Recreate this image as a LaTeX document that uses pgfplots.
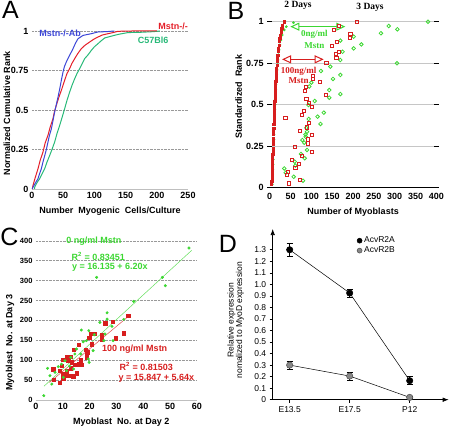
\documentclass[border=0pt]{standalone}
\usepackage{fontspec}
\setmainfont{Liberation Sans}
\newfontfamily\tnr{Liberation Serif}
\usepackage{pgfplots}
\pgfplotsset{compat=1.18}
\usetikzlibrary{arrows.meta}
\definecolor{cblue}{RGB}{60,70,215}
\definecolor{cred}{RGB}{228,30,40}
\definecolor{cgreen}{RGB}{40,185,120}
\definecolor{bgreen}{RGB}{60,215,50}
\definecolor{bred}{RGB}{215,30,30}
\definecolor{grayD}{RGB}{135,135,135}
\newcommand\tl{\bfseries\fontsize{9}{10}\selectfont}
\begin{document}
\begin{tikzpicture}
\useasboundingbox (0,0) rectangle (454pt,428pt);
\pgfplotsset{every axis/.append style={scale only axis, anchor=south west, clip=false,
  /pgf/number format/assume math mode=true}}
% ---------------- Panel A
\begin{axis}[at={(32pt,239pt)}, width=156pt, height=158pt,
  xmin=0, xmax=250, ymin=0, ymax=1,
  axis line style={draw=none}, major tick length=0pt,
  xtick={0,50,...,250}, ytick={0,0.25,0.5,0.75,1}, yticklabels={0,0.25,0.5,0.75,1},
  ymajorgrids, grid style={densely dotted, gray!80},
  ticklabel style={font=\tl},
  xlabel={Number\ \ Myogenic\ \ Cells/Culture}, ylabel={Normalized Cumulative Rank},
  label style={font=\tl},
  xlabel style={at={(axis description cs:0.5,0)}, anchor=center, yshift=-22pt},
  ylabel style={at={(axis description cs:0,0.48)}, anchor=center, yshift=25pt},
  every axis plot/.append style={line width=1pt}]
\draw[gray!50] (axis cs:0,0) -- (axis cs:250,0);
\addplot[cgreen] coordinates {(4.3,0) (4.3,0.012) (8,0.04) (12.3,0.065) (16,0.095) (20.3,0.128) (24,0.17) (28.3,0.212) (32,0.25) (36.3,0.297) (40,0.35) (44.3,0.402) (48,0.45) (52.3,0.508) (56,0.56) (60.3,0.613) (64,0.655) (68.4,0.698) (72,0.73) (76.4,0.762) (80,0.79) (84.4,0.825) (90,0.85) (95,0.877) (100,0.9) (105.8,0.92) (110,0.935) (116.5,0.956) (125,0.965) (132.5,0.973) (140,0.98) (153.8,0.99) (175,0.992) (195,0.996) (205,1)};
\addplot[cred] coordinates {(0.5,0) (1.6,0.023) (5,0.07) (9.6,0.128) (13,0.18) (17.6,0.234) (21,0.29) (25.6,0.34) (29,0.39) (33.6,0.445) (36,0.49) (39,0.53) (43,0.58) (47,0.624) (50,0.66) (52.3,0.688) (56,0.73) (60.3,0.762) (64,0.795) (68.4,0.825) (73,0.855) (79,0.888) (85,0.91) (92.3,0.93) (99,0.948) (105.8,0.962) (113,0.975) (121.8,0.983) (130,0.99) (137.8,0.998) (160,1) (200,1)};
\addplot[cblue] coordinates {(0.5,0) (1.6,0.012) (5,0.035) (9.6,0.065) (12,0.095) (14.96,0.128) (17.5,0.17) (20.3,0.21) (23,0.25) (25.6,0.297) (28,0.34) (31,0.38) (33.5,0.43) (36.3,0.487) (39,0.535) (41.7,0.582) (44.5,0.635) (47,0.688) (49.7,0.74) (52,0.775) (55,0.804) (60.3,0.846) (65.7,0.888) (70,0.925) (73.7,0.951) (81.7,0.972) (95,0.983) (105.8,0.994) (120,0.996) (132,1)};
\node[cblue, font=\tl] at (axis cs:45,0.985) {Mstn-/-Ab};
\node[cred, font=\tl] at (axis cs:226,1.027) {Mstn-/-};
\node[cgreen, font=\tl] at (axis cs:194,0.943) {C57Bl6};
\end{axis}
% ---------------- Panel B
\begin{axis}[at={(269.67pt,240.33pt)}, width=166.67pt, height=166pt,
  xmin=0, xmax=400, ymin=0, ymax=1,
  axis line style={draw=none},
  xtick={0,50,...,400}, ytick={0,0.25,0.5,0.75,1}, yticklabels={0,0.25,0.5,0.75,1},
  xtick style={draw=none}, ytick style={black, line width=1.3pt},
  major tick length=5pt, tick align=center,
  ymajorgrids, grid style={gray!45, line width=1pt},
  ticklabel style={font=\tl},
  xlabel={Number of Myoblasts}, ylabel={Standardized\ \ Rank},
  label style={font=\tl},
  xlabel style={at={(axis description cs:0.5,0)}, anchor=center, yshift=-25pt},
  ylabel style={at={(axis description cs:0,0.55)}, anchor=center, yshift=31pt}]
\draw[black, line width=1.6pt] (axis cs:-6,0) -- (axis cs:400,0);
% 2 days, 0 ng/ml
\addplot[only marks, mark=*, mark size=1.2pt, color=bgreen] coordinates {(6,0.02) (6.5,0.05) (7,0.08) (7.5,0.11) (8,0.14) (8.3,0.17) (8.7,0.2) (9.1,0.23) (9.5,0.26) (9.9,0.29) (10.2,0.32) (10.6,0.35) (11,0.38) (11.4,0.41) (11.9,0.44) (12.4,0.47) (12.9,0.5) (13.4,0.53) (14,0.56) (14.6,0.59) (15.2,0.62) (16,0.65) (16.8,0.68) (17.6,0.71) (18.6,0.74) (19.8,0.77) (21,0.8) (22.5,0.83) (24.5,0.86) (27,0.89) (30,0.92) (35,0.95) (40,0.97) (57,0.994)};
% 2 days, 100 ng/ml
\addplot[only marks, mark=square*, mark size=1.1pt, color=bred] coordinates {(4.5,0.02) (5.0,0.04) (5.3,0.06) (5.6,0.08) (6.0,0.10) (6.2,0.12) (6.5,0.14) (6.8,0.16) (7.0,0.18) (7.3,0.20) (7.6,0.22) (7.9,0.24) (8.2,0.26) (8.5,0.28) (8.8,0.30) (9.0,0.32) (9.3,0.34) (9.6,0.36) (9.9,0.38) (10.2,0.40) (10.5,0.42) (10.8,0.44) (11.1,0.46) (11.4,0.48) (11.8,0.50) (12.1,0.52) (12.5,0.54) (12.9,0.56) (13.3,0.58) (13.7,0.60) (14.1,0.62) (14.6,0.64) (15.0,0.66) (15.5,0.68) (16.0,0.70) (16.6,0.72) (17.2,0.74) (17.8,0.76) (18.5,0.78) (19.2,0.80) (20.0,0.82) (21.0,0.84) (22.0,0.86) (23.0,0.88) (24.2,0.90) (25.5,0.92) (27.0,0.94) (29.0,0.96) (31.0,0.98) (34.0,1.00)};
% 3 days, 0 ng/ml
\addplot[only marks, mark=o, mark size=1.8pt, mark options={line width=0.8pt}, color=bgreen] coordinates {(380,1.0) (285.6,0.974) (306.4,0.954) (267,0.93) (201.6,0.91) (220,0.863) (201.6,0.839) (169.6,0.886) (175,0.819) (169.6,0.769) (305.6,0.749) (145.6,0.729) (123,0.703) (169.6,0.679) (152,0.655) (100,0.633) (95,0.61) (143,0.588) (169.6,0.564) (143,0.542) (108,0.522) (93,0.498) (130,0.452) (115,0.428) (93.6,0.414) (122,0.384) (89.6,0.337) (86.4,0.307) (78.4,0.287) (83,0.271) (89.6,0.227) (75,0.203) (84,0.177) (60,0.157) (61.6,0.133) (35,0.116) (38.4,0.09) (57.6,0.066) (80,0.042) (88,0.36) (86,0.32)};
% 3 days, 100 ng/ml
\addplot[only marks, mark=square, mark size=1.6pt, mark options={line width=0.8pt}, color=bred] coordinates {(209.6,1.0) (167,0.974) (153.6,0.95) (193.6,0.924) (192,0.904) (161.6,0.88) (150,0.855) (167,0.82) (158,0.805) (160,0.78) (136,0.753) (104,0.673) (104,0.653) (120,0.637) (86.4,0.608) (84,0.584) (134,0.558) (88,0.534) (93.6,0.512) (102,0.488) (83,0.464) (78,0.438) (37.6,0.418) (93.6,0.388) (89.6,0.363) (72.8,0.341) (101.6,0.317) (92,0.291) (92,0.267) (60,0.247) (102,0.217) (77.6,0.191) (52.8,0.167) (69.6,0.143) (61.6,0.12) (43,0.096) (41.6,0.076) (72,0.046) (46.4,0.026)};
\draw[bgreen, line width=1pt, {Triangle[open,length=9pt,width=8pt]}-{Triangle[open,length=9pt,width=8pt]}] (axis cs:49.6,0.97) -- (axis cs:181.6,0.97);
\draw[bred, line width=1pt, {Triangle[open,length=9pt,width=8pt]}-{Triangle[open,length=9pt,width=8pt]}] (axis cs:29.6,0.773) -- (axis cs:129.6,0.773);
\node[bgreen, align=center, font=\tnr\bfseries\fontsize{9}{12}\selectfont] at (axis cs:107,0.893) {0ng/ml\\Mstn};
\node[bred, align=center, font=\tnr\bfseries\fontsize{9}{10.5}\selectfont] at (axis cs:69.6,0.677) {100ng/ml\\Mstn};
\node[font=\tnr\bfseries\fontsize{9.5}{10}\selectfont] at (axis cs:68,1.10) {2 Days};
\node[font=\tnr\bfseries\fontsize{9.5}{10}\selectfont] at (axis cs:240.8,1.088) {3 Days};
\end{axis}
% ---------------- Panel C
\begin{axis}[at={(36pt,28pt)}, width=161pt, height=159.3pt,
  xmin=0, xmax=60, ymin=0, ymax=400,
  axis line style={draw=none}, major tick length=0pt,
  xtick={0,10,...,60}, ytick={0,50,...,400},
  ymajorgrids, grid style={densely dotted, gray!80},
  xticklabel style={font=\tl},
  yticklabel style={font=\bfseries\fontsize{7.5}{9}\selectfont},
  xlabel={Myoblast\ \ No. at Day 2}, ylabel={Myoblast\ \ No. at Day 3},
  label style={font=\tl},
  xlabel style={at={(axis description cs:0.53,0)}, anchor=center, yshift=-21.7pt},
  ylabel style={at={(axis description cs:0,0.36)}, anchor=center, yshift=26pt}]
\draw[gray!50] (axis cs:0,0) -- (axis cs:60,0);
\addplot[bgreen!80, line width=0.5pt] coordinates {(3,34.7) (58,375.7)};
\addplot[bred!80, line width=0.5pt] coordinates {(5,44.0) (35,213.2)};
\addplot[only marks, mark=square*, mark size=1.7pt, color=bred] coordinates {(34.3,211.7) (28.5,196.7) (25.8,192.5) (32.7,168) (29.7,155.6) (24.5,153) (24.5,164) (21.7,167) (20.6,167) (19.8,157) (20.8,140.6) (18.5,127) (15.9,139) (14.1,127) (12.9,108.8) (11.4,107) (10.2,101) (12,98.7) (13.3,94.6) (16.1,90) (16.9,88.7) (9.5,86) (6.4,77) (8.9,73.6) (11.4,72) (10.2,65) (12,61) (13.9,59.4) (6.6,51) (8.9,44) (10.2,55) (15.1,67) (18.8,107) (19.1,120) (16.7,100) (14.5,88) (13,80)};
\addplot[only marks, mark=*, mark size=1.3pt, color=bgreen] coordinates {(57,381.6) (47.1,308) (48.2,287) (22.6,308) (36.4,247.7) (26.5,219) (26.5,203) (32.7,202.5) (28.3,185) (23.8,195) (16.9,175.7) (19.7,174) (21.7,164) (17.6,146.4) (25.7,165.7) (25.3,149) (28.7,149) (18.8,149) (21.3,124) (15.1,128) (16.7,115.5) (14.5,115.5) (13,107) (10.8,98.7) (9.5,90) (11.4,73.6) (8.3,83.7) (7.1,69.5) (5.2,61) (4.3,79.5) (5.9,40) (2.9,10.9) (10.2,57) (19.5,103) (19.8,94.6) (12.5,85) (14,78)};
\node[bgreen, font=\tl] at (axis cs:21.6,398) {0 ng/ml Mstn};
\node[bgreen, font=\tl] at (axis cs:23.2,360) {R\textsuperscript{2} = 0.83451};
\node[bgreen, font=\tl] at (axis cs:27.5,333) {y = 16.135 + 6.20x};
\node[bred, font=\tl] at (axis cs:36.8,128) {100 ng/ml Mstn};
\node[bred, font=\tl] at (axis cs:41.1,83.7) {R\textsuperscript{2} = 0.81503};
\node[bred, font=\tl] at (axis cs:44.9,55) {y = 15.847 + 5.64x};
\end{axis}
% ---------------- Panel D
\begin{axis}[at={(272.7pt,28.3pt)}, width=176pt, height=170.7pt,
  xmin=-0.283, xmax=2.65, ymin=0, ymax=1.48,
  axis lines=left, axis line style={line width=0.7pt, -{Latex[length=6pt,width=4.5pt]}},
  xtick={0,1,2}, xticklabels={E13.5,E17.5,P12},
  ytick={0,0.1,0.2,0.3,0.4,0.5,0.6,0.7,0.8,0.9,1.0,1.1,1.2,1.3},
  yticklabels={0,0.1,0.2,0.3,0.4,0.5,0.6,0.7,0.8,0.9,1.0,1.1,1.2,1.3},
  tick style={black, line width=0.6pt}, major tick length=3pt, tick align=outside,
  ticklabel style={font=\fontsize{8.5}{9}\selectfont},
  ylabel={Relative expression\\nomalized to MyoD expression},
  ylabel style={align=center, font=\fontsize{8.5}{8.5}\selectfont, at={(axis description cs:0,0.465)}, anchor=center, yshift=37pt},
  legend style={at={(axis cs:1.12,1.43)}, anchor=north west, draw=none, fill=none,
    font=\fontsize{8.5}{9}\selectfont, row sep=-1.5pt, inner sep=0pt},
  legend cell align=left,
  legend image code/.code={\draw[#1, only marks, mark size=2.5pt] plot coordinates {(0.1cm,0cm)};}]
\addplot[black, line width=0.5pt, mark=*, mark size=3.2pt, mark options={fill=black},
  error bars/.cd, y dir=both, y explicit,
  error bar style={black, line width=0.6pt}, error mark options={rotate=90, mark size=3pt, black, line width=0.6pt}]
  coordinates {(0,1.30) +- (0,0.055) (1,0.925) +- (0,0.035) (2,0.165) +- (0,0.035)};
\addlegendentry{AcvR2A}
\addplot[black, line width=0.5pt, mark=*, mark size=3.2pt, mark options={fill=grayD, draw=black!70},
  error bars/.cd, y dir=both, y explicit,
  error bar style={black, line width=0.6pt}, error mark options={rotate=90, mark size=3pt, black, line width=0.6pt}]
  coordinates {(0,0.30) +- (0,0.035) (1,0.205) +- (0,0.035) (2,0.02) +- (0,0.01)};
\addlegendentry{AcvR2B}
\end{axis}
% ---------------- panel letters
\node[font=\fontsize{25}{25}\selectfont, inner sep=0pt] at (10.5pt,418pt) {A};
\node[font=\fontsize{25}{25}\selectfont, inner sep=0pt] at (236pt,417.2pt) {B};
\node[font=\fontsize{25}{25}\selectfont, inner sep=0pt] at (9.5pt,191pt) {C};
\node[font=\fontsize{25}{25}\selectfont, inner sep=0pt] at (228pt,184.5pt) {D};
\end{tikzpicture}
\end{document}
